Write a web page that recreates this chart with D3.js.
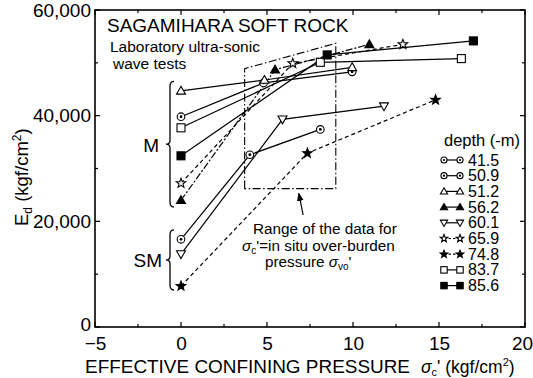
<!DOCTYPE html>
<html>
<head>
<meta charset="utf-8">
<script src="https://cdn.jsdelivr.net/npm/d3@7/dist/d3.min.js"></script>
<style>
  html, body { margin: 0; padding: 0; background: #fff; }
  svg { display: block; font-family: "Liberation Sans", Arial, sans-serif; }
</style>
</head>
<body>
<svg id="chart" width="533" height="378"></svg>
<script>
// Dynamic modulus E_d versus effective confining pressure, Sagamihara soft rock
const depthLabels = ["41.5", "50.9", "51.2", "56.2", "60.1", "65.9", "74.8", "83.7", "85.6"];

// confining pressure (kgf/cm2) and E_d (kgf/cm2) for each depth
const pressure415 = [0, 4.0, 8.1];   const ed415 = [16600, 32600, 37400];
const pressure509 = [0, 4.8, 9.95];  const ed509 = [39800, 46200, 48300];
const pressure512 = [0, 4.85, 9.95]; const ed512 = [44700, 46750, 49150];
const pressure562 = [0, 5.47, 10.95];const ed562 = [24000, 48700, 53500];
const pressure601 = [0, 5.9, 11.8];  const ed601 = [13800, 39300, 41800];
const pressure659 = [0, 6.5, 12.9];  const ed659 = [27200, 49900, 53500];
const pressure748 = [0, 7.35, 14.8]; const ed748 = [7750, 32900, 43000];
const pressure837 = [0, 8.1, 16.3];  const ed837 = [37700, 50100, 50800];
const pressure856 = [0, 8.5, 17.0];  const ed856 = [32400, 51500, 54150];

const pressures = [pressure415, pressure509, pressure512, pressure562, pressure601, pressure659, pressure748, pressure837, pressure856];
const eds = [ed415, ed509, ed512, ed562, ed601, ed659, ed748, ed837, ed856];

// range of the data for sigma_c' = in situ over-burden pressure
const rangeBoxX = [3.7, 9.0];
const rangeBoxBottom = 26200;
const rangeBoxTop = [48900, 53700];

const xTicks = [-5, 0, 5, 10, 15, 20];
const yTicks = [0, 20000, 40000, 60000];

// marker shapes and line dashes per depth
const markerKind = ["circleDot", "circleDot", "triUp", "triUpFill", "triDown", "star", "starFill", "square", "squareFill"];
const lineDash = [null, null, null, "7,2,2,2", null, "4,3", "4,3", null, null];
const legendDash = [null, null, null, null, null, "2.5,2", "2.5,2", null, null];

const svg = d3.select("#chart");
const x = d3.scaleLinear().domain([-5, 20]).range([95, 525]);
const y = d3.scaleLinear().domain([0, 60000]).range([327, 10]);

// frame
svg.append("rect")
  .attr("x", x(-5)).attr("y", y(60000))
  .attr("width", x(20) - x(-5)).attr("height", y(0) - y(60000))
  .attr("fill", "none").attr("stroke", "#000").attr("stroke-width", 1.6);

// axes with inward ticks
const bottomAxis = d3.axisBottom(x).tickValues(xTicks).tickSize(0).tickPadding(10);
const gB = svg.append("g").attr("transform", `translate(0,${y(0)})`).call(bottomAxis);
gB.select(".domain").remove();
gB.selectAll("text").attr("font-size", 19).attr("font-family", "Liberation Sans, Arial, sans-serif")
  .attr("dx", d => d === 20 ? -3 : 0);

const leftAxis = d3.axisLeft(y).tickValues(yTicks).tickFormat(d3.format(",")).tickSize(0).tickPadding(4);
const gL = svg.append("g").attr("transform", `translate(${x(-5)},0)`).call(leftAxis);
gL.select(".domain").remove();
gL.selectAll("text").attr("font-size", 19).attr("font-family", "Liberation Sans, Arial, sans-serif");
gL.selectAll(".tick").filter(d => d === 0).select("text").attr("dy", "0.2em");

const xMinor = d3.range(-5, 20.01, 2.5);
const yMinor = d3.range(0, 60001, 10000);
const tickG = svg.append("g").attr("stroke", "#000").attr("stroke-width", 1.2);
xMinor.forEach(v => {
  const len = v % 5 === 0 ? 5 : 3;
  tickG.append("line").attr("x1", x(v)).attr("x2", x(v)).attr("y1", y(0)).attr("y2", y(0) - len);
  tickG.append("line").attr("x1", x(v)).attr("x2", x(v)).attr("y1", y(60000)).attr("y2", y(60000) + len);
});
yMinor.forEach(v => {
  const len = v % 20000 === 0 ? 5 : 3;
  tickG.append("line").attr("x1", x(-5)).attr("x2", x(-5) + len).attr("y1", y(v)).attr("y2", y(v));
  tickG.append("line").attr("x1", x(20)).attr("x2", x(20) - len).attr("y1", y(v)).attr("y2", y(v));
});

// axis titles
svg.append("text").attr("x", 85).attr("y", 373).attr("font-size", 18.5)
  .attr("textLength", 325).attr("lengthAdjust", "spacingAndGlyphs")
  .text("EFFECTIVE CONFINING PRESSURE");
const xt = svg.append("text").attr("x", 421).attr("y", 373).attr("font-size", 17.5);
xt.append("tspan").attr("font-style", "italic").text("σ");
xt.append("tspan").attr("font-size", 11).attr("dy", 3).text("c");
xt.append("tspan").attr("dy", -3).text("' (kgf/cm");
xt.append("tspan").attr("font-size", 11).attr("dy", -7).text("2");
xt.append("tspan").attr("dy", 7).text(")");

const yt = svg.append("text").attr("transform", "translate(28,226) rotate(-90)").attr("font-size", 18.5);
yt.append("tspan").text("E");
yt.append("tspan").attr("font-size", 12).attr("dy", 4).text("d");
yt.append("tspan").attr("dy", -4).text(" (kgf/cm");
yt.append("tspan").attr("font-size", 12).attr("dy", -7).text("2");
yt.append("tspan").attr("dy", 7).text(")");

// title
svg.append("text").attr("x", 107).attr("y", 32).attr("font-size", 19).text("SAGAMIHARA SOFT ROCK");
svg.append("text").attr("x", 110).attr("y", 52).attr("font-size", 15.5).text("Laboratory ultra-sonic");
svg.append("text").attr("x", 113).attr("y", 69).attr("font-size", 15.5).text("wave tests");

// range box
const boxPts = [
  [rangeBoxX[0], rangeBoxBottom], [rangeBoxX[0], rangeBoxTop[0]],
  [rangeBoxX[1], rangeBoxTop[1]], [rangeBoxX[1], rangeBoxBottom]
];
svg.append("path")
  .attr("d", d3.line().x(d => x(d[0])).y(d => y(d[1]))(boxPts) + "Z")
  .attr("fill", "none").attr("stroke", "#000").attr("stroke-width", 1.1)
  .attr("stroke-dasharray", "8,2.5,1.5,2.5");

// arrow from note to box
const arrowTail = [7.1, 21200], arrowTip = [6.85, 25300];
svg.append("defs").append("marker")
  .attr("id", "ah").attr("viewBox", "0 0 10 10").attr("refX", 9).attr("refY", 5)
  .attr("markerWidth", 7).attr("markerHeight", 7).attr("orient", "auto")
  .append("path").attr("d", "M0,1 L10,5 L0,9 Z").attr("fill", "#000");
svg.append("line")
  .attr("x1", x(arrowTail[0])).attr("y1", y(arrowTail[1]))
  .attr("x2", x(arrowTip[0])).attr("y2", y(arrowTip[1]))
  .attr("stroke", "#000").attr("stroke-width", 1.2).attr("marker-end", "url(#ah)");

// note text
svg.append("text").attr("x", 253).attr("y", 234).attr("font-size", 15.3).text("Range of the data for");
const n2 = svg.append("text").attr("x", 242).attr("y", 251).attr("font-size", 15.3);
n2.append("tspan").attr("font-style", "italic").text("σ");
n2.append("tspan").attr("font-size", 10).attr("dy", 3).text("c");
n2.append("tspan").attr("dy", -3).text("'=in situ over-burden");
const n3 = svg.append("text").attr("x", 265).attr("y", 267).attr("font-size", 15.3);
n3.append("tspan").text("pressure ");
n3.append("tspan").attr("font-style", "italic").text("σ");
n3.append("tspan").attr("font-size", 10).attr("dy", 3).text("vo");
n3.append("tspan").attr("dy", -3).text("'");

// braces for M and SM groups
function brace(xPos, y0, y1) {
  const ym = (y0 + y1) / 2, w = 4;
  return `M${xPos + w},${y0} Q${xPos},${y0} ${xPos},${y0 + 5} L${xPos},${ym - 4} Q${xPos},${ym} ${xPos - w},${ym}` +
         ` Q${xPos},${ym} ${xPos},${ym + 4} L${xPos},${y1 - 5} Q${xPos},${y1} ${xPos + w},${y1}`;
}
svg.append("path").attr("d", brace(170, y(46500), y(22700))).attr("fill", "none").attr("stroke", "#000").attr("stroke-width", 1.3);
svg.append("path").attr("d", brace(170, y(18400), y(7000))).attr("fill", "none").attr("stroke", "#000").attr("stroke-width", 1.3);
svg.append("text").attr("x", 159).attr("y", y(34400)).attr("text-anchor", "end").attr("dominant-baseline", "central").attr("font-size", 19).text("M");
svg.append("text").attr("x", 162).attr("y", y(12600)).attr("text-anchor", "end").attr("dominant-baseline", "central").attr("font-size", 19).text("SM");

// marker drawing
const star = (r) => {
  const pts = [];
  for (let k = 0; k < 10; k++) {
    const a = -Math.PI / 2 + k * Math.PI / 5;
    const rr = k % 2 === 0 ? r : r * 0.42;
    pts.push([rr * Math.cos(a), rr * Math.sin(a)]);
  }
  return "M" + pts.map(p => p.join(",")).join("L") + "Z";
};
function drawMarker(g, kind, cx, cy, s = 1) {
  const m = g.append("g").attr("transform", `translate(${cx},${cy}) scale(${s})`)
    .attr("stroke", "#000").attr("stroke-width", 1.1 / s);
  switch (kind) {
    case "circleDot":
      m.append("circle").attr("r", 3.8).attr("fill", "#fff");
      m.append("circle").attr("r", 1.4).attr("fill", "#000").attr("stroke", "none");
      break;
    case "triUp":
      m.append("path").attr("d", "M0,-4.5L4.5,3.3L-4.5,3.3Z").attr("fill", "#fff"); break;
    case "triUpFill":
      m.append("path").attr("d", "M0,-4.5L4.5,3.3L-4.5,3.3Z").attr("fill", "#000"); break;
    case "triDown":
      m.append("path").attr("d", "M0,4.5L4.5,-3.3L-4.5,-3.3Z").attr("fill", "#fff"); break;
    case "star":
      m.append("path").attr("d", star(5)).attr("fill", "#fff"); break;
    case "starFill":
      m.append("path").attr("d", star(5)).attr("fill", "#000"); break;
    case "square":
      m.append("rect").attr("x", -4).attr("y", -4).attr("width", 8).attr("height", 8).attr("fill", "#fff"); break;
    case "squareFill":
      m.append("rect").attr("x", -4).attr("y", -4).attr("width", 8).attr("height", 8).attr("fill", "#000"); break;
  }
}

// series lines
const line = d3.line().x(d => x(d[0])).y(d => y(d[1]));
const seriesG = svg.append("g");
depthLabels.forEach((lab, i) => {
  const pts = pressures[i].map((p, j) => [p, eds[i][j]]);
  seriesG.append("path").attr("d", line(pts)).attr("fill", "none")
    .attr("stroke", "#000").attr("stroke-width", 1.2)
    .attr("stroke-dasharray", lineDash[i]);
});
// series markers
const markG = svg.append("g");
depthLabels.forEach((lab, i) => {
  pressures[i].forEach((p, j) => drawMarker(markG, markerKind[i], x(p), y(eds[i][j])));
});

// legend
const lg = svg.append("g");
lg.append("text").attr("x", 444).attr("y", 146).attr("font-size", 16.5).text("depth (-m)");
depthLabels.forEach((lab, i) => {
  const ry = 160 + i * 15.7;
  lg.append("line").attr("x1", 444).attr("x2", 460).attr("y1", ry).attr("y2", ry)
    .attr("stroke", "#000").attr("stroke-width", 1.2).attr("stroke-dasharray", legendDash[i]);
  drawMarker(lg, markerKind[i], 444, ry, 0.8);
  drawMarker(lg, markerKind[i], 460, ry, 0.8);
  lg.append("text").attr("x", 468).attr("y", ry + 5.5)
    .attr("font-size", 16).text(lab);
});
</script>
</body>
</html>
